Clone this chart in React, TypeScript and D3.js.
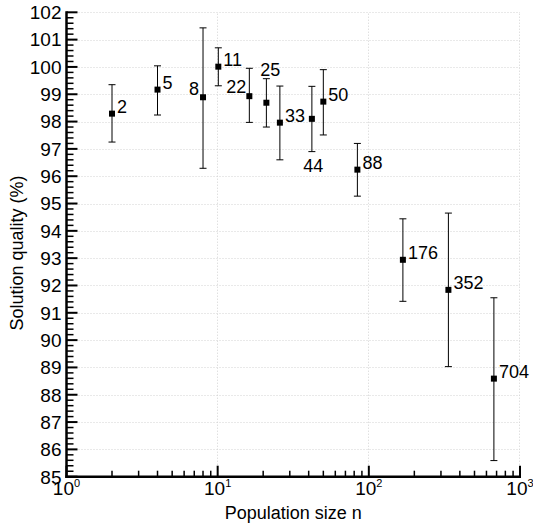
import React, { useEffect, useRef } from "react";
import * as d3 from "d3";

// population sizes (x, log scale) and the label printed next to each point
const popSizes = [2, 4, 8, 10.1, 16.2, 21, 25.8, 42, 50, 84, 168, 336, 672];
const pointLabels = ["2", "5", "8", "11", "22", "25", "33", "44", "50", "88", "176", "352", "704"];
const quality = [98.29, 99.17, 98.89, 100.01, 98.93, 98.69, 97.96, 98.1, 98.73, 96.24, 92.94, 91.84, 88.59];
const qualityHigh = [99.35, 100.04, 101.43, 100.7, 99.95, 99.57, 99.3, 99.29, 99.9, 97.2, 94.44, 94.65, 91.55];
const qualityLow = [97.25, 98.24, 96.29, 99.31, 97.97, 97.8, 96.6, 96.9, 97.51, 95.27, 91.42, 89.03, 85.59];
const labelSide = ["right", "right", "left", "right", "leftAbove", "above", "right", "below", "right", "right", "right", "right", "right"];

const yMajor = d3.range(85, 103);
const xMajor = [1, 10, 100, 1000];
const xTickExp = ["0", "1", "2", "3"];

const W = 533;
const H = 527;
const FONT = "Arial, 'Liberation Sans', Helvetica, sans-serif";

const drawChart = (el: SVGSVGElement) => {
  const svg = d3.select(el);
  svg.selectAll("*").remove();

  const x = d3.scaleLog().domain([1, 1000]).range([66.5, 520]);
  const y = d3.scaleLinear().domain([85, 102]).range([476.7, 12.3]);
  const [x0, x1] = x.range();
  const [y0, y1] = y.range();

  // dotted grid
  const grid = svg.append("g").attr("stroke", "#d2d2d2").attr("stroke-width", 1).attr("stroke-dasharray", "1,2");
  grid
    .selectAll(".gy")
    .data(yMajor.slice(1))
    .enter()
    .append("line")
    .attr("x1", x0)
    .attr("x2", x1)
    .attr("y1", d => Math.round(y(d)) + 0.5)
    .attr("y2", d => Math.round(y(d)) + 0.5);
  grid
    .selectAll(".gx")
    .data(xMajor.slice(1))
    .enter()
    .append("line")
    .attr("x1", d => Math.round(x(d)) - 0.5)
    .attr("x2", d => Math.round(x(d)) - 0.5)
    .attr("y1", y0)
    .attr("y2", y1);

  // y axis, ticks pointing inward
  const yMinor = d3.range(85, 102.001, 0.2).filter(v => Math.abs(v - Math.round(v)) > 0.01);
  const ax = svg.append("g").attr("stroke", "#000");
  ax.selectAll(".ymin")
    .data(yMinor)
    .enter()
    .append("line")
    .attr("x1", x0)
    .attr("x2", x0 + 7)
    .attr("y1", d => y(d))
    .attr("y2", d => y(d))
    .attr("stroke-width", 1.5);
  ax.selectAll(".ymaj")
    .data(yMajor)
    .enter()
    .append("line")
    .attr("x1", x0)
    .attr("x2", x0 + 11)
    .attr("y1", d => y(d))
    .attr("y2", d => y(d))
    .attr("stroke-width", 2);

  // x axis, ticks pointing up
  const xMinor = x.ticks().filter(v => !xMajor.includes(v));
  ax.selectAll(".xmin")
    .data(xMinor)
    .enter()
    .append("line")
    .attr("x1", d => x(d))
    .attr("x2", d => x(d))
    .attr("y1", y0)
    .attr("y2", y0 - 6)
    .attr("stroke-width", 1.5);
  ax.selectAll(".xmaj")
    .data(xMajor)
    .enter()
    .append("line")
    .attr("x1", d => x(d))
    .attr("x2", d => x(d))
    .attr("y1", y0)
    .attr("y2", y0 - 11)
    .attr("stroke-width", 2);

  ax.append("line").attr("x1", x0).attr("x2", x0).attr("y1", y0 + 1.2).attr("y2", y1 - 1).attr("stroke-width", 2.5);
  ax.append("line").attr("x1", x0 - 1.2).attr("x2", x1 + 1).attr("y1", y0).attr("y2", y0).attr("stroke-width", 2.5);

  // tick labels
  svg
    .selectAll(".ylab")
    .data(yMajor)
    .enter()
    .append("text")
    .attr("x", x0 - 5)
    .attr("y", d => y(d))
    .attr("dy", "0.36em")
    .attr("text-anchor", "end")
    .attr("font-family", FONT)
    .attr("font-size", 19)
    .text(d => d);

  const xl = svg
    .selectAll(".xlab")
    .data(xMajor)
    .enter()
    .append("text")
    .attr("x", d => x(d))
    .attr("y", 495)
    .attr("text-anchor", "middle")
    .attr("font-family", FONT)
    .attr("font-size", 19);
  xl.append("tspan").text("10");
  xl.append("tspan").attr("dy", -8).attr("font-size", 11).text((d, i) => xTickExp[i]);

  // axis titles
  svg
    .append("text")
    .attr("x", (x0 + x1) / 2)
    .attr("y", 519)
    .attr("text-anchor", "middle")
    .attr("font-family", FONT)
    .attr("font-size", 18)
    .text("Population size n");
  svg
    .append("text")
    .attr("transform", `translate(23, ${253}) rotate(-90)`)
    .attr("text-anchor", "middle")
    .attr("font-family", FONT)
    .attr("font-size", 18)
    .text("Solution quality (%)");

  // error bars and points
  const pts = svg
    .selectAll(".pt")
    .data(popSizes)
    .enter()
    .append("g")
    .attr("class", "pt");

  pts
    .append("line")
    .attr("x1", d => x(d))
    .attr("x2", d => x(d))
    .attr("y1", (d, i) => y(qualityHigh[i]))
    .attr("y2", (d, i) => y(qualityLow[i]))
    .attr("stroke", "#000")
    .attr("stroke-width", 1);
  pts
    .append("line")
    .attr("x1", d => x(d) - 3.5)
    .attr("x2", d => x(d) + 3.5)
    .attr("y1", (d, i) => y(qualityHigh[i]))
    .attr("y2", (d, i) => y(qualityHigh[i]))
    .attr("stroke", "#000");
  pts
    .append("line")
    .attr("x1", d => x(d) - 3.5)
    .attr("x2", d => x(d) + 3.5)
    .attr("y1", (d, i) => y(qualityLow[i]))
    .attr("y2", (d, i) => y(qualityLow[i]))
    .attr("stroke", "#000");
  pts
    .append("rect")
    .attr("x", d => x(d) - 3)
    .attr("y", (d, i) => y(quality[i]) - 3)
    .attr("width", 6)
    .attr("height", 6)
    .attr("fill", "#000");

  pts
    .append("text")
    .attr("font-family", FONT)
    .attr("font-size", 18)
    .attr("text-anchor", (d, i) => {
      const s = labelSide[i];
      if (s === "left" || s === "leftAbove") return "end";
      if (s === "above" || s === "below") return "middle";
      return "start";
    })
    .attr("x", (d, i) => {
      const s = labelSide[i];
      if (s === "left") return x(d) - 4;
      if (s === "leftAbove") return x(d) - 3;
      if (s === "above") return x(d) + 4;
      if (s === "below") return x(d) + 1.5;
      return x(d) + 5;
    })
    .attr("y", (d, i) => {
      const s = labelSide[i];
      if (s === "left") return y(quality[i]) - 2;
      if (s === "leftAbove") return y(quality[i]) - 3;
      if (s === "above") return y(qualityHigh[i]) - 3;
      if (s === "below") return y(qualityLow[i]) + 20;
      return y(quality[i]) - 1;
    })
    .text((d, i) => pointLabels[i]);
};

function App() {
  const ref = useRef<SVGSVGElement>(null);

  useEffect(() => {
    if (ref.current) drawChart(ref.current);
  }, []);

  return (
    <svg
      ref={ref}
      width={W}
      height={H}
      style={{ position: "absolute", left: 0, top: 0, background: "#fff" }}
    />
  );
}

export default App;
